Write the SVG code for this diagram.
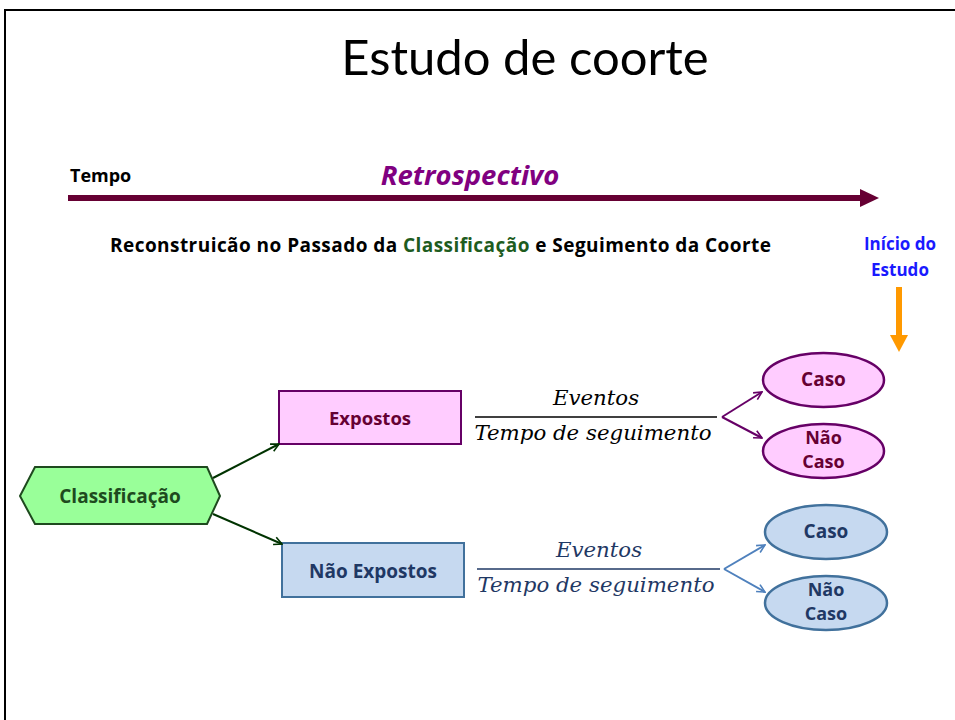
<svg xmlns="http://www.w3.org/2000/svg" width="955" height="720" viewBox="0 0 955 720">
<style>
.b{font-family:"Open Sans",Lato,"Liberation Sans",sans-serif;font-weight:bold}
.m{font-family:"DejaVu Serif","Liberation Serif",serif;font-style:italic;font-size:21.3px}
</style>
<defs>
<marker id="ag" viewBox="0 0 10 10" refX="9" refY="5" markerWidth="5" markerHeight="5" orient="auto" markerUnits="strokeWidth"><path d="M1,1 L9,5 L1,9" fill="none" stroke="#003300" stroke-width="1.6"/></marker>
<marker id="ap" viewBox="0 0 10 10" refX="9" refY="5" markerWidth="5" markerHeight="5" orient="auto" markerUnits="strokeWidth"><path d="M1,1 L9,5 L1,9" fill="none" stroke="#660066" stroke-width="1.6"/></marker>
<marker id="ab" viewBox="0 0 10 10" refX="9" refY="5" markerWidth="5" markerHeight="5" orient="auto" markerUnits="strokeWidth"><path d="M1,1 L9,5 L1,9" fill="none" stroke="#4f81bd" stroke-width="1.6"/></marker>
</defs>
<rect width="955" height="720" fill="#fff"/>
<path d="M5,720 V10 H955" fill="none" stroke="#000" stroke-width="2"/>
<text x="525" y="75" text-anchor="middle" font-family="Lato,'Open Sans',sans-serif" font-size="49" fill="#000">Estudo de coorte</text>
<g id="timeline">
<text class="b" x="70" y="182" font-size="18">Tempo</text>
<text class="b" x="470" y="185" font-size="27.5" font-style="italic" fill="#800080" text-anchor="middle">Retrospectivo</text>
<rect x="68" y="195" width="795" height="6" fill="#660033"/>
<path d="M860,189 L879,198 L860,207 Z" fill="#660033"/>
</g>
<text class="b" x="110" y="252" font-size="19" textLength="661">Reconstruicão no Passado da <tspan fill="#1e5c1e">Classificação</tspan> e Seguimento da Coorte</text>
<g id="inicio">
<text class="b" font-size="17" fill="#1a1aff" text-anchor="middle"><tspan x="900" y="250">Início do</tspan><tspan x="900" y="276">Estudo</tspan></text>
<rect x="896" y="287" width="6" height="48" fill="#ff9900"/>
<path d="M890,335 L908,335 L899,352 Z" fill="#ff9900"/>
</g>
<g id="classificacao">
<path d="M20,496 L35,467 L207,467 L220,496 L207,524 L35,524 Z" fill="#99ff99" stroke="#1e4a1e" stroke-width="2"/>
<text class="b" x="120" y="503" font-size="19" fill="#1e4a1e" text-anchor="middle">Classificação</text>
</g>
<g id="expostos">
<rect x="279" y="391" width="182" height="53" fill="#ffccff" stroke="#660066" stroke-width="2"/>
<text class="b" x="370" y="425" font-size="18.5" fill="#660033" text-anchor="middle">Expostos</text>
</g>
<g id="nao-expostos">
<rect x="282" y="543" width="182" height="54" fill="#c6d9f0" stroke="#41719c" stroke-width="2"/>
<text class="b" x="373" y="578" font-size="19" fill="#1f3864" text-anchor="middle">Não Expostos</text>
</g>
<g id="taxa-expostos">
<text class="m" x="596" y="405" text-anchor="middle">Eventos</text>
<line x1="475" y1="417" x2="717" y2="417" stroke="#000" stroke-width="1.5"/>
<text class="m" x="593" y="440" text-anchor="middle">Tempo de seguimento</text>
</g>
<g id="taxa-nao-expostos" fill="#1f3864">
<text class="m" x="599" y="557" text-anchor="middle">Eventos</text>
<line x1="477" y1="569" x2="720" y2="569" stroke="#1f3864" stroke-width="1.5"/>
<text class="m" x="596" y="592" text-anchor="middle">Tempo de seguimento</text>
</g>
<g id="exp-caso">
<ellipse cx="823.5" cy="380" rx="60.5" ry="27" fill="#ffccff" stroke="#660066" stroke-width="2.5"/>
<text class="b" x="823.5" y="386" font-size="19" fill="#660033" text-anchor="middle">Caso</text>
</g>
<g id="exp-nao-caso">
<ellipse cx="823.5" cy="451" rx="60.5" ry="27" fill="#ffccff" stroke="#660066" stroke-width="2.5"/>
<text class="b" font-size="18" fill="#660033" text-anchor="middle"><tspan x="823.5" y="444">Não</tspan><tspan x="823.5" y="468">Caso</tspan></text>
</g>
<g id="nexp-caso">
<ellipse cx="826" cy="532" rx="61" ry="27" fill="#c6d9f0" stroke="#41719c" stroke-width="2.5"/>
<text class="b" x="826" y="538" font-size="19" fill="#1f3864" text-anchor="middle">Caso</text>
</g>
<g id="nexp-nao-caso">
<ellipse cx="826" cy="603" rx="61" ry="27" fill="#c6d9f0" stroke="#41719c" stroke-width="2.5"/>
<text class="b" font-size="18" fill="#1f3864" text-anchor="middle"><tspan x="826" y="596">Não</tspan><tspan x="826" y="620">Caso</tspan></text>
</g>
<g id="connectors" fill="none" stroke-width="2">
<line x1="213" y1="478" x2="279" y2="444" stroke="#003300" marker-end="url(#ag)"/>
<line x1="213" y1="514" x2="282" y2="544" stroke="#003300" marker-end="url(#ag)"/>
<line x1="722" y1="417" x2="762" y2="392" stroke="#660066" marker-end="url(#ap)"/>
<line x1="722" y1="417" x2="762" y2="438" stroke="#660066" marker-end="url(#ap)"/>
<line x1="724" y1="569" x2="765" y2="545" stroke="#4f81bd" marker-end="url(#ab)"/>
<line x1="724" y1="569" x2="765" y2="592" stroke="#4f81bd" marker-end="url(#ab)"/>
</g>
</svg>
